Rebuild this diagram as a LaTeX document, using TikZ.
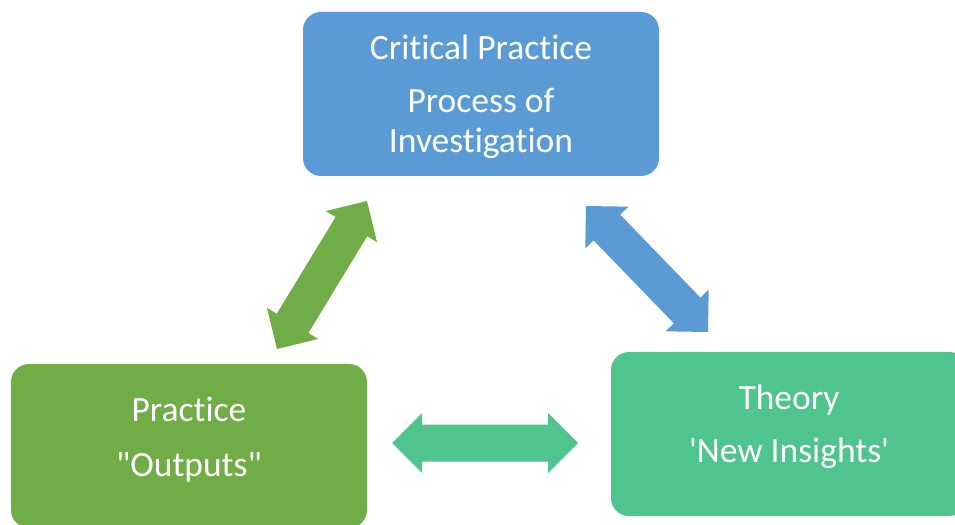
\documentclass[tikz,border=0pt]{standalone}
\usepackage{fontspec}
\setmainfont{Carlito}
\newfontfamily\boxfont{Carlito}[Ligatures={TeXOff,NoCommon}]
\usetikzlibrary{calc}

\definecolor{boxblue}{HTML}{5B9BD5}
\definecolor{boxgreen}{HTML}{70AD47}
\definecolor{boxteal}{HTML}{4FC58D}

\tikzset{
  box/.style={fill=#1, draw=none, rounded corners=18bp,
    minimum width=356bp, minimum height=164bp, inner sep=0pt},
  lbl/.style={text=white, anchor=base, inner sep=0pt,
    font=\boxfont\fontsize{35.5bp}{40bp}\selectfont},
}

% two-headed block arrow from #1 to #2, filled with #3
\newcommand\blockarrow[3]{%
  \fill[#3] let \p1=($(#2)-(#1)$), \n1={atan2(\y1,\x1)} in
    (#1)
    -- ($(#1)+(\n1:30bp)+(\n1+90:30bp)$)
    -- ($(#1)+(\n1:30bp)+(\n1+90:18.5bp)$)
    -- ($(#2)+(\n1+180:30bp)+(\n1+90:18.5bp)$)
    -- ($(#2)+(\n1+180:30bp)+(\n1+90:30bp)$)
    -- (#2)
    -- ($(#2)+(\n1+180:30bp)+(\n1-90:30bp)$)
    -- ($(#2)+(\n1+180:30bp)+(\n1-90:18.5bp)$)
    -- ($(#1)+(\n1:30bp)+(\n1-90:18.5bp)$)
    -- ($(#1)+(\n1:30bp)+(\n1-90:30bp)$)
    -- cycle;}

\begin{document}
\begin{tikzpicture}[x=1bp,y=-1bp]
\useasboundingbox (0,0) rectangle (955,525);
\clip (0,0) rectangle (955,525);

% the three boxes
\node[box=boxblue]  (crit) at (481,94)  {};
\node[box=boxgreen] (prac) at (189,446) {};
\node[box=boxteal]  (theo) at (789,434) {};

% box texts
\node[lbl] (critA) at ($(crit.north)+(0,48)$)  {Critical Practice};
\node[lbl] (critB) at ($(crit.north)+(0,101)$) {Process of};
\node[lbl] (critC) at ($(crit.north)+(0,141)$) {Investigation};
\node[lbl] (pracA) at ($(prac.north)+(0,58)$)  {Practice};
\node[lbl] (pracB) at ($(prac.north)+(0,113)$) {"Outputs"};
\node[lbl] (theoA) at ($(theo.north)+(0,58)$)  {Theory};
\node[lbl] (theoB) at ($(theo.north)+(0,111)$) {'New Insights'};

% arrow ends
\coordinate (gA) at (277,349);
\coordinate (gB) at (367,201);
\coordinate (bA) at (586,206);
\coordinate (bB) at (708,332);
\coordinate (tA) at (392,443);
\coordinate (tB) at (578,443);

\blockarrow{gA}{gB}{boxgreen}
\blockarrow{bA}{bB}{boxblue}
\blockarrow{tA}{tB}{boxteal}
\end{tikzpicture}
\end{document}
